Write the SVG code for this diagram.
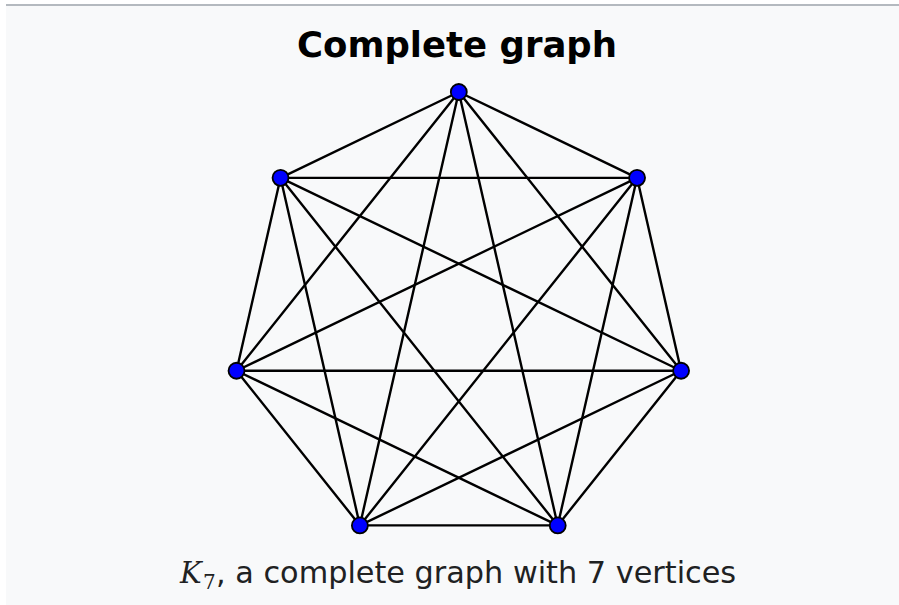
<svg xmlns="http://www.w3.org/2000/svg" width="899" height="605" viewBox="0 0 899 605">
<style>
.edge{stroke:#000;stroke-width:2.4;stroke-linecap:round}
.v{fill:#0000ff;stroke:#000;stroke-width:1.8}
.title{font-family:"DejaVu Sans",sans-serif;font-weight:bold;font-size:35.5px;fill:#000}
.cap{font-family:"DejaVu Sans",sans-serif;font-size:30.3px;fill:#202122}
</style>
<rect x="0" y="0" width="899" height="605" fill="#ffffff"/>
<rect x="6" y="5" width="893" height="600" fill="#f8f9fa"/>
<line x1="6" y1="5" x2="899" y2="5" stroke="#b4b9bf" stroke-width="2"/>
<text class="title" x="457" y="57" text-anchor="middle">Complete graph</text>
<g id="edges">
<line class="edge" x1="458.8" y1="92" x2="637.06" y2="177.84"/>
<line class="edge" x1="458.8" y1="92" x2="681.08" y2="370.73"/>
<line class="edge" x1="458.8" y1="92" x2="557.72" y2="525.42"/>
<line class="edge" x1="458.8" y1="92" x2="359.88" y2="525.42"/>
<line class="edge" x1="458.8" y1="92" x2="236.52" y2="370.73"/>
<line class="edge" x1="458.8" y1="92" x2="280.54" y2="177.84"/>
<line class="edge" x1="637.06" y1="177.84" x2="681.08" y2="370.73"/>
<line class="edge" x1="637.06" y1="177.84" x2="557.72" y2="525.42"/>
<line class="edge" x1="637.06" y1="177.84" x2="359.88" y2="525.42"/>
<line class="edge" x1="637.06" y1="177.84" x2="236.52" y2="370.73"/>
<line class="edge" x1="637.06" y1="177.84" x2="280.54" y2="177.84"/>
<line class="edge" x1="681.08" y1="370.73" x2="557.72" y2="525.42"/>
<line class="edge" x1="681.08" y1="370.73" x2="359.88" y2="525.42"/>
<line class="edge" x1="681.08" y1="370.73" x2="236.52" y2="370.73"/>
<line class="edge" x1="681.08" y1="370.73" x2="280.54" y2="177.84"/>
<line class="edge" x1="557.72" y1="525.42" x2="359.88" y2="525.42"/>
<line class="edge" x1="557.72" y1="525.42" x2="236.52" y2="370.73"/>
<line class="edge" x1="557.72" y1="525.42" x2="280.54" y2="177.84"/>
<line class="edge" x1="359.88" y1="525.42" x2="236.52" y2="370.73"/>
<line class="edge" x1="359.88" y1="525.42" x2="280.54" y2="177.84"/>
<line class="edge" x1="236.52" y1="370.73" x2="280.54" y2="177.84"/>
</g>
<g id="v0"><circle class="v" cx="458.8" cy="92" r="8"/></g>
<g id="v1"><circle class="v" cx="637.06" cy="177.84" r="8"/></g>
<g id="v2"><circle class="v" cx="681.08" cy="370.73" r="8"/></g>
<g id="v3"><circle class="v" cx="557.72" cy="525.42" r="8"/></g>
<g id="v4"><circle class="v" cx="359.88" cy="525.42" r="8"/></g>
<g id="v5"><circle class="v" cx="236.52" cy="370.73" r="8"/></g>
<g id="v6"><circle class="v" cx="280.54" cy="177.84" r="8"/></g>
<g id="caption">
<text x="180" y="583" font-family="'DejaVu Serif',serif" font-style="italic" font-size="29" fill="#202122">K</text>
<text x="203" y="589" font-family="'DejaVu Serif',serif" font-size="20" fill="#202122">7</text>
<text class="cap" x="216" y="583">, a complete graph with 7 vertices</text>
</g>
</svg>
